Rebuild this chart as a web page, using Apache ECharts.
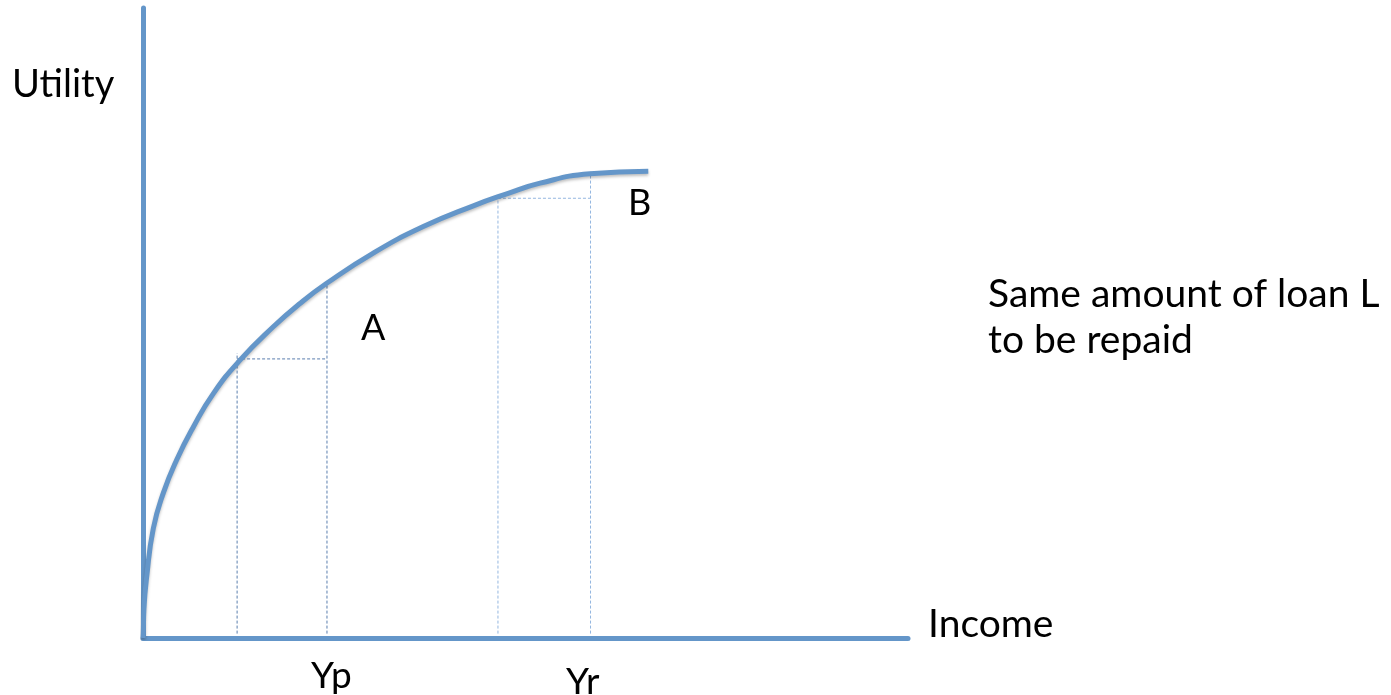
<!DOCTYPE html>
<html>
<head>
<meta charset="utf-8">
<script src="https://cdn.jsdelivr.net/npm/echarts@6/dist/echarts.min.js"></script>
<style>
	html, body { margin: 0; padding: 0; background: #fff; }
	#chart { width: 1391px; height: 695px; }
</style>
</head>
<body>
<div id="chart"></div>
<script>
	// utility curve, income on x, utility on y (0-100 scale both ways)
	var curveX = [0, 0.04, 0.12, 0.48, 1.35, 2.65, 4.41, 6.58, 9.19, 12.68, 17.03, 20.52, 24.01, 30.1, 36.64, 43.18, 47.54, 51.9, 58.43, 66.05];
	var curveY = [0, 0.8, 4.6, 9.7, 17.4, 23.0, 28.3, 33.5, 38.8, 44.1, 49.4, 53.1, 56.3, 61.1, 65.3, 68.6, 70.5, 72.2, 73.7, 74.1];

	// poor borrower Yp: repay from A
	var poorX = [12.3, 12.3, 24.05, 24.05];
	var poorY = [0.7, 45.2, 44.3, 56.3];
	// rich borrower Yr: repay from B
	var richX = [46.4, 46.4, 58.5, 58.5];
	var richY = [0.7, 69.8, 69.8, 74.0];

	function pairs(xs, ys) {
		var arr = [];
		for (var i = 0; i < xs.length; i++) arr.push([xs[i], ys[i]]);
		return arr;
	}
	function guide(xs, ys) {
		// vertical up, across, vertical down
		return [
			[[xs[0], ys[0]], [xs[1], ys[1]]],
			[[xs[1], ys[2]], [xs[2], ys[2]]],
			[[xs[3], ys[0]], [xs[3], ys[3]]]
		];
	}

	var blue = '#6496c9';
	var font = 'Lato, "Open Sans", sans-serif';
	var series = [{
		type: 'line',
		data: pairs(curveX, curveY),
		symbol: 'none',
		smooth: 0.5,
		lineStyle: {
			width: 5,
			color: blue,
			shadowBlur: 3,
			shadowColor: 'rgba(0,0,0,0.25)',
			shadowOffsetY: 2
		},
		z: 5
	}];
	guide(poorX, poorY).forEach(function(seg) {
		series.push({ type: 'line', data: seg, symbol: 'none', lineStyle: { width: 1, type: [3, 2], color: '#5a7eae' } });
	});
	guide(richX, richY).forEach(function(seg) {
		series.push({ type: 'line', data: seg, symbol: 'none', lineStyle: { width: 1, type: [3, 2], color: '#94b6e0' } });
	});

	// x, baseline y
	function txt(s, x, base, size) {
		return {
			type: 'text', x: x, y: base - Math.round(size * 0.81), silent: true,
			style: { text: s, fill: '#000', font: size + 'px ' + font }
		};
	}

	var myChart = echarts.init(document.getElementById('chart'));
	myChart.setOption({
		animation: false,
		grid: { left: 143, right: 483, top: 8, bottom: 57 },
		xAxis: {
			type: 'value', min: 0, max: 100,
			axisLine: { show: true, lineStyle: { color: blue, width: 5 } },
			axisTick: { show: false }, axisLabel: { show: false }, splitLine: { show: false }
		},
		yAxis: {
			type: 'value', min: 0, max: 100,
			axisLine: { show: true, lineStyle: { color: blue, width: 5 } },
			axisTick: { show: false }, axisLabel: { show: false }, splitLine: { show: false }
		},
		series: series,
		graphic: [
			txt('Utility', 12, 97, 38),
			txt('Income', 928, 637, 39),
			txt('Yp', 311, 688, 37),
			txt('Yr', 566, 694, 37),
			txt('A', 361, 339, 36),
			txt('B', 628, 214, 36),
			txt('Same amount of loan L', 988, 307, 39),
			txt('to be repaid', 988, 353, 39)
		]
	});
</script>
</body>
</html>
